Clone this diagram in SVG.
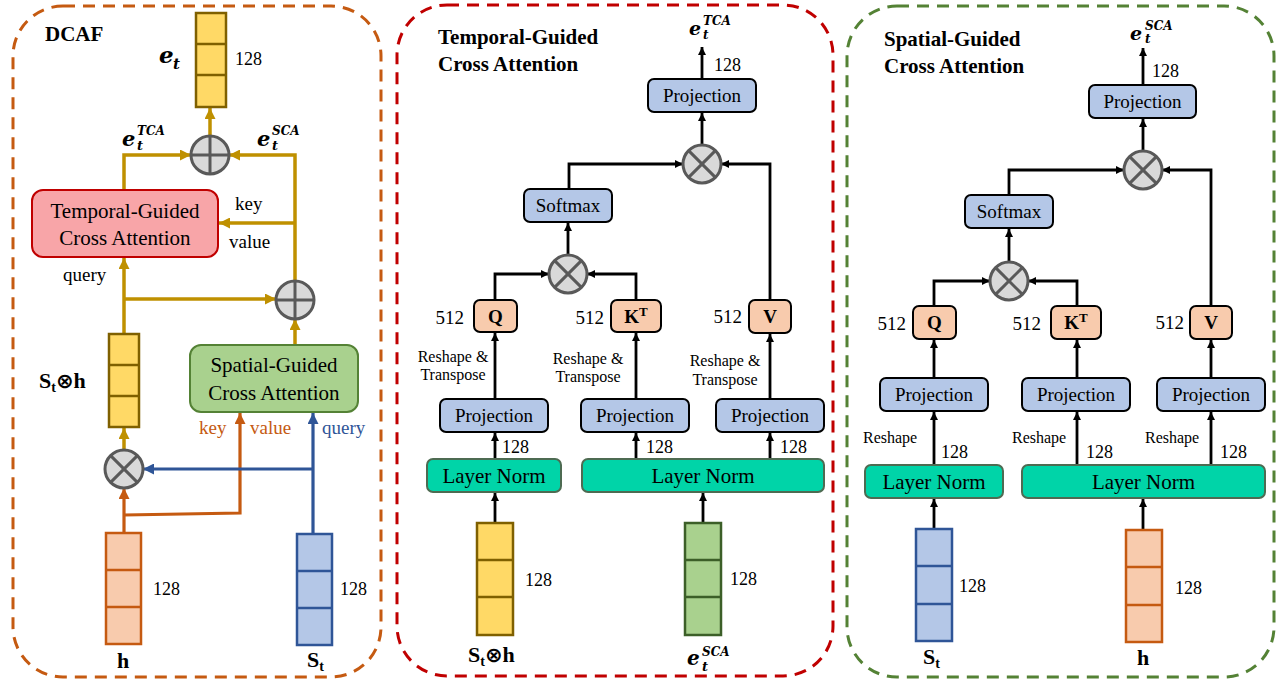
<svg xmlns="http://www.w3.org/2000/svg" width="1288" height="688" viewBox="0 0 1288 688">
<defs>
<style>
.ser{font-family:"Liberation Serif","Times New Roman",serif;fill:#000}
.b{font-weight:bold}
.math{font-family:"DejaVu Serif","Liberation Serif",serif;font-weight:bold;font-style:italic;fill:#000}
.panel{fill:none;stroke-width:3;stroke-dasharray:12 8}
.blk{fill:none;stroke:#000;stroke-width:2.8}
.gold{fill:none;stroke:#BF9000;stroke-width:3.5}
.org{fill:none;stroke:#C55A11;stroke-width:3.2}
.blu{fill:none;stroke:#2F5597;stroke-width:3.2}
.proj{fill:#B4C7E7;stroke:#000;stroke-width:2}
.qkv{fill:#F8CBAD;stroke:#000;stroke-width:2}
.ln{fill:#00D4A8;stroke:#4E6B52;stroke-width:2}
.op{fill:#D9D9D9;stroke:#595959;stroke-width:3}
.opl{stroke:#595959;stroke-width:3}
.vy{fill:#FFD966;stroke:#7F6000;stroke-width:2.5}
.vo{fill:#F8CBAD;stroke:#C55A11;stroke-width:2.5}
.vb{fill:#B4C7E7;stroke:#2F5597;stroke-width:2.5}
.vg{fill:#A9D18E;stroke:#3C5F28;stroke-width:2.5}
</style>
<marker id="ak" viewBox="0 0 10 10" refX="10" refY="5" markerWidth="8" markerHeight="8" markerUnits="userSpaceOnUse" orient="auto"><path d="M0,0 L10,5 L0,10 z" fill="#000"/></marker>
<marker id="ag" viewBox="0 0 10 10" refX="10" refY="5" markerWidth="11" markerHeight="11" markerUnits="userSpaceOnUse" orient="auto"><path d="M0,0 L10,5 L0,10 z" fill="#BF9000"/></marker>
<marker id="ao" viewBox="0 0 10 10" refX="10" refY="5" markerWidth="11" markerHeight="11" markerUnits="userSpaceOnUse" orient="auto"><path d="M0,0 L10,5 L0,10 z" fill="#C55A11"/></marker>
<marker id="ab" viewBox="0 0 10 10" refX="10" refY="5" markerWidth="11" markerHeight="11" markerUnits="userSpaceOnUse" orient="auto"><path d="M0,0 L10,5 L0,10 z" fill="#2F5597"/></marker>
</defs>
<rect width="1288" height="688" fill="#fff"/>

<!-- panels -->
<g id="panel-dcaf">
<rect class="panel" x="13" y="6" width="368" height="671" rx="50" stroke="#C55A11"/>
<text class="ser b" x="45" y="41" font-size="21">DCAF</text>
</g>
<g id="panel-tgca">
<rect class="panel" x="397" y="5" width="436" height="671" rx="50" stroke="#C00000"/>
<text class="ser b" x="438" y="44" font-size="21">Temporal-Guided</text>
<text class="ser b" x="438" y="71" font-size="21">Cross Attention</text>
</g>
<g id="panel-sgca">
<rect class="panel" x="847" y="6" width="427" height="671" rx="50" stroke="#548235"/>
<text class="ser b" x="884" y="46" font-size="21">Spatial-Guided</text>
<text class="ser b" x="884" y="73" font-size="21">Cross Attention</text>
</g>

<!-- connectors -->
<g id="connectors">
<!-- left panel gold -->
<path class="gold" d="M210,136 V108" marker-end="url(#ag)"/>
<path class="gold" d="M124,190 V155 H191" marker-end="url(#ag)"/>
<path class="gold" d="M295,281 V155 H229" marker-end="url(#ag)"/>
<path class="gold" d="M295,223 H219" marker-end="url(#ag)"/>
<path class="gold" d="M124,334 V258" marker-end="url(#ag)"/>
<path class="gold" d="M124,299 H276" marker-end="url(#ag)"/>
<path class="gold" d="M295,345 V319" marker-end="url(#ag)"/>
<path class="gold" d="M124,450 V428" marker-end="url(#ag)"/>
<!-- left panel orange / blue -->
<path class="org" d="M124,533 V488" marker-end="url(#ao)"/>
<path class="org" d="M124,515 L240,513 V413" marker-end="url(#ao)"/>
<path class="blu" d="M313,533 V413" marker-end="url(#ab)"/>
<path class="blu" d="M313,469 H143" marker-end="url(#ab)"/>

<!-- middle panel -->
<path class="blk" d="M702,79 V47" marker-end="url(#ak)"/>
<path class="blk" d="M702,145 V113" marker-end="url(#ak)"/>
<path class="blk" d="M569,189 V164 H683" marker-end="url(#ak)"/>
<path class="blk" d="M770,300 V164 H721" marker-end="url(#ak)"/>
<path class="blk" d="M568,255 V223" marker-end="url(#ak)"/>
<path class="blk" d="M495,300 V274 H549" marker-end="url(#ak)"/>
<path class="blk" d="M636,300 V274 H587" marker-end="url(#ak)"/>
<path class="blk" d="M495,399 V333" marker-end="url(#ak)"/>
<path class="blk" d="M636,399 V333" marker-end="url(#ak)"/>
<path class="blk" d="M770,399 V334" marker-end="url(#ak)"/>
<path class="blk" d="M495,459 V433" marker-end="url(#ak)"/>
<path class="blk" d="M636,459 V433" marker-end="url(#ak)"/>
<path class="blk" d="M770,459 V433" marker-end="url(#ak)"/>
<path class="blk" d="M495,523 V493" marker-end="url(#ak)"/>
<path class="blk" d="M703,523 V493" marker-end="url(#ak)"/>

<!-- right panel -->
<path class="blk" d="M1143,85 V48" marker-end="url(#ak)"/>
<path class="blk" d="M1143,151 V119" marker-end="url(#ak)"/>
<path class="blk" d="M1009,195 V170 H1124" marker-end="url(#ak)"/>
<path class="blk" d="M1211,306 V170 H1162" marker-end="url(#ak)"/>
<path class="blk" d="M1009,262 V229" marker-end="url(#ak)"/>
<path class="blk" d="M934,306 V281 H990" marker-end="url(#ak)"/>
<path class="blk" d="M1077,306 V281 H1028" marker-end="url(#ak)"/>
<path class="blk" d="M934,378 V340" marker-end="url(#ak)"/>
<path class="blk" d="M1077,378 V340" marker-end="url(#ak)"/>
<path class="blk" d="M1211,378 V340" marker-end="url(#ak)"/>
<path class="blk" d="M934,465 V412" marker-end="url(#ak)"/>
<path class="blk" d="M1077,465 V412" marker-end="url(#ak)"/>
<path class="blk" d="M1211,465 V412" marker-end="url(#ak)"/>
<path class="blk" d="M934,529 V499" marker-end="url(#ak)"/>
<path class="blk" d="M1143,530 V499" marker-end="url(#ak)"/>
</g>

<!-- ===== Left panel nodes ===== -->
<g id="vec-et">
<rect class="vy" x="196" y="13" width="30" height="94"/>
<line class="vy" x1="196" y1="44" x2="226" y2="44"/>
<line class="vy" x1="196" y1="75" x2="226" y2="75"/>
<text class="math" x="159" y="63" font-size="23">e</text>
<text class="math" x="173" y="69" font-size="15">t</text>
<text class="ser" x="235" y="65" font-size="18">128</text>
</g>
<g id="plus-top">
<circle class="op" cx="210" cy="155" r="19"/>
<line class="opl" x1="191" y1="155" x2="229" y2="155"/>
<line class="opl" x1="210" y1="136" x2="210" y2="174"/>
</g>
<g id="lbl-tca-left">
<text class="math" x="122" y="146" font-size="21">e</text>
<text class="math" x="137" y="135" font-size="12">TCA</text>
<text class="math" x="137" y="150" font-size="13">t</text>
</g>
<g id="lbl-sca-left">
<text class="math" x="257" y="146" font-size="21">e</text>
<text class="math" x="272" y="135" font-size="12">SCA</text>
<text class="math" x="272" y="150" font-size="13">t</text>
</g>
<g id="tgca-box">
<rect x="32" y="190" width="186" height="67" rx="11" fill="#F8A5A8" stroke="#C00000" stroke-width="2"/>
<text class="ser" x="125" y="218" font-size="21" text-anchor="middle">Temporal-Guided</text>
<text class="ser" x="125" y="245" font-size="21" text-anchor="middle">Cross Attention</text>
</g>
<g id="lbl-kv-left">
<text class="ser" x="235" y="210" font-size="19">key</text>
<text class="ser" x="229" y="248" font-size="19">value</text>
<text class="ser" x="63" y="281" font-size="19">query</text>
</g>
<g id="plus-mid">
<circle class="op" cx="295" cy="300" r="19"/>
<line class="opl" x1="276" y1="300" x2="314" y2="300"/>
<line class="opl" x1="295" y1="281" x2="295" y2="319"/>
</g>
<g id="vec-sth">
<rect class="vy" x="109" y="334" width="30" height="93"/>
<line class="vy" x1="109" y1="365" x2="139" y2="365"/>
<line class="vy" x1="109" y1="396" x2="139" y2="396"/>
<text class="ser b" x="39" y="388" font-size="22">S<tspan font-size="14" dy="4">t</tspan><tspan dy="-4" font-family="DejaVu Sans" font-size="21">⊗</tspan>h</text>
</g>
<g id="sgca-box">
<rect x="190" y="345" width="168" height="67" rx="11" fill="#A9D18E" stroke="#548235" stroke-width="2"/>
<text class="ser" x="274" y="372" font-size="21" text-anchor="middle">Spatial-Guided</text>
<text class="ser" x="274" y="400" font-size="21" text-anchor="middle">Cross Attention</text>
</g>
<g id="lbl-kvq-sgca">
<text class="ser" x="199" y="434" font-size="19" style="fill:#C55A11">key</text>
<text class="ser" x="250" y="434" font-size="19" style="fill:#C55A11">value</text>
<text class="ser" x="322" y="434" font-size="19" style="fill:#2F5597">query</text>
</g>
<g id="times-left">
<circle class="op" cx="124" cy="469" r="19"/>
<line class="opl" x1="110.6" y1="455.6" x2="137.4" y2="482.4"/>
<line class="opl" x1="137.4" y1="455.6" x2="110.6" y2="482.4"/>
</g>
<g id="vec-h-left">
<rect class="vo" x="106" y="533" width="35" height="111"/>
<line class="vo" x1="106" y1="570" x2="141" y2="570"/>
<line class="vo" x1="106" y1="607" x2="141" y2="607"/>
<text class="ser" x="153" y="595" font-size="18">128</text>
<text class="ser b" x="123" y="668" font-size="22" text-anchor="middle">h</text>
</g>
<g id="vec-st-left">
<rect class="vb" x="297" y="534" width="35" height="111"/>
<line class="vb" x1="297" y1="571" x2="332" y2="571"/>
<line class="vb" x1="297" y1="608" x2="332" y2="608"/>
<text class="ser" x="340" y="595" font-size="18">128</text>
<text class="ser b" x="307" y="667" font-size="22">S<tspan font-size="14" dy="4">t</tspan></text>
</g>

<!-- ===== Middle panel nodes ===== -->
<g id="tca-out-lbl">
<text class="math" x="689" y="35" font-size="19">e</text>
<text class="math" x="703" y="25" font-size="12">TCA</text>
<text class="math" x="703" y="39" font-size="12">t</text>
<text class="ser" x="714" y="71" font-size="18">128</text>
</g>
<g id="tca-proj-out">
<rect class="proj" x="648" y="79" width="108" height="33" rx="6"/>
<text class="ser" x="702" y="102" font-size="19" text-anchor="middle">Projection</text>
</g>
<g id="tca-times-top">
<circle class="op" cx="702" cy="164" r="19"/>
<line class="opl" x1="688.6" y1="150.6" x2="715.4" y2="177.4"/>
<line class="opl" x1="715.4" y1="150.6" x2="688.6" y2="177.4"/>
</g>
<g id="tca-softmax">
<rect class="proj" x="524" y="189" width="88" height="33" rx="6"/>
<text class="ser" x="568" y="212" font-size="19" text-anchor="middle">Softmax</text>
</g>
<g id="tca-times-qk">
<circle class="op" cx="568" cy="274" r="19"/>
<line class="opl" x1="554.6" y1="260.6" x2="581.4" y2="287.4"/>
<line class="opl" x1="581.4" y1="260.6" x2="554.6" y2="287.4"/>
</g>
<g id="tca-q">
<rect class="qkv" x="474" y="300" width="43" height="32" rx="6"/>
<text class="ser b" x="495.5" y="323" font-size="19" text-anchor="middle">Q</text>
<text class="ser" x="464" y="324" font-size="19" text-anchor="end">512</text>
</g>
<g id="tca-k">
<rect class="qkv" x="611" y="300" width="50" height="32" rx="6"/>
<text class="ser b" x="636" y="323" font-size="19" text-anchor="middle">K<tspan font-size="13" dy="-7">T</tspan></text>
<text class="ser" x="604" y="324" font-size="19" text-anchor="end">512</text>
</g>
<g id="tca-v">
<rect class="qkv" x="749" y="300" width="42" height="33" rx="6"/>
<text class="ser b" x="770" y="323" font-size="19" text-anchor="middle">V</text>
<text class="ser" x="742" y="323" font-size="19" text-anchor="end">512</text>
</g>
<g id="tca-rt-labels">
<text class="ser" x="453" y="362" font-size="16" text-anchor="middle">Reshape &amp;</text>
<text class="ser" x="453" y="380" font-size="16" text-anchor="middle">Transpose</text>
<text class="ser" x="588" y="364" font-size="16" text-anchor="middle">Reshape &amp;</text>
<text class="ser" x="588" y="382" font-size="16" text-anchor="middle">Transpose</text>
<text class="ser" x="725" y="366" font-size="16" text-anchor="middle">Reshape &amp;</text>
<text class="ser" x="725" y="385" font-size="16" text-anchor="middle">Transpose</text>
</g>
<g id="tca-proj-q">
<rect class="proj" x="440" y="399" width="108" height="33" rx="6"/>
<text class="ser" x="494" y="422" font-size="19" text-anchor="middle">Projection</text>
<text class="ser" x="502" y="453" font-size="18">128</text>
</g>
<g id="tca-proj-k">
<rect class="proj" x="581" y="399" width="108" height="33" rx="6"/>
<text class="ser" x="635" y="422" font-size="19" text-anchor="middle">Projection</text>
<text class="ser" x="646" y="453" font-size="18">128</text>
</g>
<g id="tca-proj-v">
<rect class="proj" x="716" y="399" width="108" height="33" rx="6"/>
<text class="ser" x="770" y="422" font-size="19" text-anchor="middle">Projection</text>
<text class="ser" x="780" y="453" font-size="18">128</text>
</g>
<g id="tca-ln1">
<rect class="ln" x="427" y="459" width="134" height="33" rx="6"/>
<text class="ser" x="494" y="483" font-size="21" text-anchor="middle">Layer Norm</text>
</g>
<g id="tca-ln2">
<rect class="ln" x="582" y="459" width="242" height="33" rx="6"/>
<text class="ser" x="703" y="483" font-size="21" text-anchor="middle">Layer Norm</text>
</g>
<g id="tca-vec-sth">
<rect class="vy" x="477" y="523" width="36" height="112"/>
<line class="vy" x1="477" y1="560" x2="513" y2="560"/>
<line class="vy" x1="477" y1="597" x2="513" y2="597"/>
<text class="ser" x="525" y="586" font-size="18">128</text>
<text class="ser b" x="468" y="662" font-size="22">S<tspan font-size="14" dy="4">t</tspan><tspan dy="-4" font-family="DejaVu Sans" font-size="21">⊗</tspan>h</text>
</g>
<g id="tca-vec-sca">
<rect class="vg" x="685" y="523" width="36" height="112"/>
<line class="vg" x1="685" y1="560" x2="721" y2="560"/>
<line class="vg" x1="685" y1="597" x2="721" y2="597"/>
<text class="ser" x="730" y="585" font-size="18">128</text>
<text class="math" x="687" y="665" font-size="20">e</text>
<text class="math" x="702" y="656" font-size="12">SCA</text>
<text class="math" x="702" y="671" font-size="13">t</text>
</g>

<!-- ===== Right panel nodes ===== -->
<g id="sca-out-lbl">
<text class="math" x="1130" y="40" font-size="19">e</text>
<text class="math" x="1145" y="30" font-size="12">SCA</text>
<text class="math" x="1145" y="43" font-size="12">t</text>
<text class="ser" x="1152" y="77" font-size="18">128</text>
</g>
<g id="sca-proj-out">
<rect class="proj" x="1089" y="85" width="107" height="33" rx="6"/>
<text class="ser" x="1142.5" y="108" font-size="19" text-anchor="middle">Projection</text>
</g>
<g id="sca-times-top">
<circle class="op" cx="1143" cy="170" r="19"/>
<line class="opl" x1="1129.6" y1="156.6" x2="1156.4" y2="183.4"/>
<line class="opl" x1="1156.4" y1="156.6" x2="1129.6" y2="183.4"/>
</g>
<g id="sca-softmax">
<rect class="proj" x="965" y="195" width="88" height="33" rx="6"/>
<text class="ser" x="1009" y="218" font-size="19" text-anchor="middle">Softmax</text>
</g>
<g id="sca-times-qk">
<circle class="op" cx="1009" cy="281" r="19"/>
<line class="opl" x1="995.6" y1="267.6" x2="1022.4" y2="294.4"/>
<line class="opl" x1="1022.4" y1="267.6" x2="995.6" y2="294.4"/>
</g>
<g id="sca-q">
<rect class="qkv" x="913" y="306" width="43" height="33" rx="6"/>
<text class="ser b" x="934.5" y="329" font-size="19" text-anchor="middle">Q</text>
<text class="ser" x="906" y="330" font-size="19" text-anchor="end">512</text>
</g>
<g id="sca-k">
<rect class="qkv" x="1051" y="306" width="50" height="33" rx="6"/>
<text class="ser b" x="1076" y="329" font-size="19" text-anchor="middle">K<tspan font-size="13" dy="-7">T</tspan></text>
<text class="ser" x="1041" y="330" font-size="19" text-anchor="end">512</text>
</g>
<g id="sca-v">
<rect class="qkv" x="1190" y="306" width="42" height="33" rx="6"/>
<text class="ser b" x="1211" y="329" font-size="19" text-anchor="middle">V</text>
<text class="ser" x="1184" y="329" font-size="19" text-anchor="end">512</text>
</g>
<g id="sca-proj-q">
<rect class="proj" x="880" y="378" width="108" height="33" rx="6"/>
<text class="ser" x="934" y="401" font-size="19" text-anchor="middle">Projection</text>
<text class="ser" x="863" y="443" font-size="16">Reshape</text>
<text class="ser" x="941" y="458" font-size="18">128</text>
</g>
<g id="sca-proj-k">
<rect class="proj" x="1022" y="378" width="108" height="33" rx="6"/>
<text class="ser" x="1076" y="401" font-size="19" text-anchor="middle">Projection</text>
<text class="ser" x="1012" y="443" font-size="16">Reshape</text>
<text class="ser" x="1086" y="458" font-size="18">128</text>
</g>
<g id="sca-proj-v">
<rect class="proj" x="1157" y="378" width="108" height="33" rx="6"/>
<text class="ser" x="1211" y="401" font-size="19" text-anchor="middle">Projection</text>
<text class="ser" x="1145" y="443" font-size="16">Reshape</text>
<text class="ser" x="1220" y="458" font-size="18">128</text>
</g>
<g id="sca-ln1">
<rect class="ln" x="865" y="465" width="138" height="33" rx="6"/>
<text class="ser" x="934" y="489" font-size="21" text-anchor="middle">Layer Norm</text>
</g>
<g id="sca-ln2">
<rect class="ln" x="1022" y="465" width="243" height="33" rx="6"/>
<text class="ser" x="1143.5" y="489" font-size="21" text-anchor="middle">Layer Norm</text>
</g>
<g id="sca-vec-st">
<rect class="vb" x="916" y="529" width="36" height="112"/>
<line class="vb" x1="916" y1="566" x2="952" y2="566"/>
<line class="vb" x1="916" y1="604" x2="952" y2="604"/>
<text class="ser" x="959" y="592" font-size="18">128</text>
<text class="ser b" x="923" y="664" font-size="22">S<tspan font-size="14" dy="4">t</tspan></text>
</g>
<g id="sca-vec-h">
<rect class="vo" x="1126" y="530" width="36" height="112"/>
<line class="vo" x1="1126" y1="567" x2="1162" y2="567"/>
<line class="vo" x1="1126" y1="605" x2="1162" y2="605"/>
<text class="ser" x="1175" y="594" font-size="18">128</text>
<text class="ser b" x="1143" y="665" font-size="22" text-anchor="middle">h</text>
</g>
</svg>
